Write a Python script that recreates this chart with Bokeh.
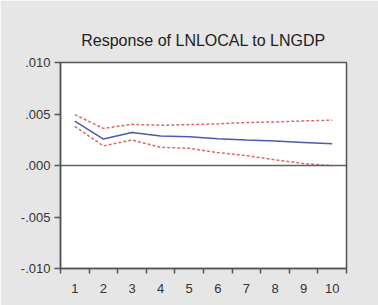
from bokeh.plotting import figure
from bokeh.models import FixedTicker, Span, Range1d
from bokeh.embed import file_html
from bokeh.resources import INLINE

# Data
periods = [1, 2, 3, 4, 5, 6, 7, 8, 9, 10]
response = [0.0043, 0.00257, 0.0032, 0.00286, 0.0028, 0.0026, 0.00247, 0.00237, 0.00224, 0.0021]
upper_band = [0.00494, 0.0036, 0.0040, 0.0039, 0.00397, 0.00404, 0.00417, 0.00423, 0.00433, 0.0044]
lower_band = [0.0038, 0.0019, 0.00247, 0.00176, 0.00167, 0.00125, 0.00096, 0.00055, 0.0002, -0.00003]

title_text = "Response of LNLOCAL to LNGDP"
x_tick_labels = ["1", "2", "3", "4", "5", "6", "7", "8", "9", "10"]
x_minor = [0.5, 1.5, 2.5, 3.5, 4.5, 5.5, 6.5, 7.5, 8.5, 9.5, 10.5]
y_ticks = [-0.010, -0.005, 0.000, 0.005, 0.010]
y_tick_labels = ["-.010", "-.005", ".000", ".005", ".010"]

FRAME = "#555555"
FONT = "Liberation Sans"

p = figure(width=378, height=305, output_backend="svg", toolbar_location=None,
           x_range=Range1d(0.5, 10.5), y_range=Range1d(-0.010, 0.010),
           min_border_left=60, min_border_right=32, min_border_top=62, min_border_bottom=37)

p.background_fill_color = "white"
p.border_fill_color = "#e6e6e6"
p.outline_line_color = FRAME
p.outline_line_width = 1.5
p.xgrid.visible = False
p.ygrid.visible = False

p.title.text = title_text + "\n "
p.title.align = "center"
p.title.vertical_align = "bottom"
p.title.text_line_height = 0.5
p.title.text_font = FONT
p.title.text_font_size = "16px"
p.title.text_font_style = "normal"
p.title.text_color = "#222222"

# x axis
p.xaxis.ticker = FixedTicker(ticks=periods, minor_ticks=x_minor)
p.xaxis.major_label_overrides = {pv: lab for pv, lab in zip(periods, x_tick_labels)}
p.xaxis.major_tick_out = 0
p.xaxis.major_tick_in = 0
p.xaxis.minor_tick_out = 5
p.xaxis.minor_tick_in = 0
p.xaxis.minor_tick_line_color = FRAME
p.xaxis.minor_tick_line_width = 1.5
p.xaxis.major_label_standoff = 10
p.xaxis.axis_line_color = FRAME
p.xaxis.axis_line_width = 1.5

# y axis
p.yaxis.ticker = FixedTicker(ticks=y_ticks, minor_ticks=[])
p.yaxis.major_label_overrides = {t: lab for t, lab in zip(y_ticks, y_tick_labels)}
p.yaxis.major_tick_out = 6
p.yaxis.major_tick_in = 0
p.yaxis.major_tick_line_color = FRAME
p.yaxis.major_tick_line_width = 1.5
p.yaxis.major_label_standoff = 4
p.yaxis.axis_line_color = FRAME
p.yaxis.axis_line_width = 1.5

for ax in (p.xaxis, p.yaxis):
    ax.major_label_text_font = FONT
    ax.major_label_text_font_size = "13px"
    ax.major_label_text_color = "#333333"

p.add_layout(Span(location=0, dimension="width", line_color="#606060", line_width=1.5))

p.line(periods, upper_band, line_color="#d96a6a", line_width=1.5, line_dash="3 2")
p.line(periods, lower_band, line_color="#d96a6a", line_width=1.5, line_dash="3 2")
p.line(periods, response, line_color="#4a5aad", line_width=1.5)

open("out.html", "w").write(file_html(p, INLINE))
